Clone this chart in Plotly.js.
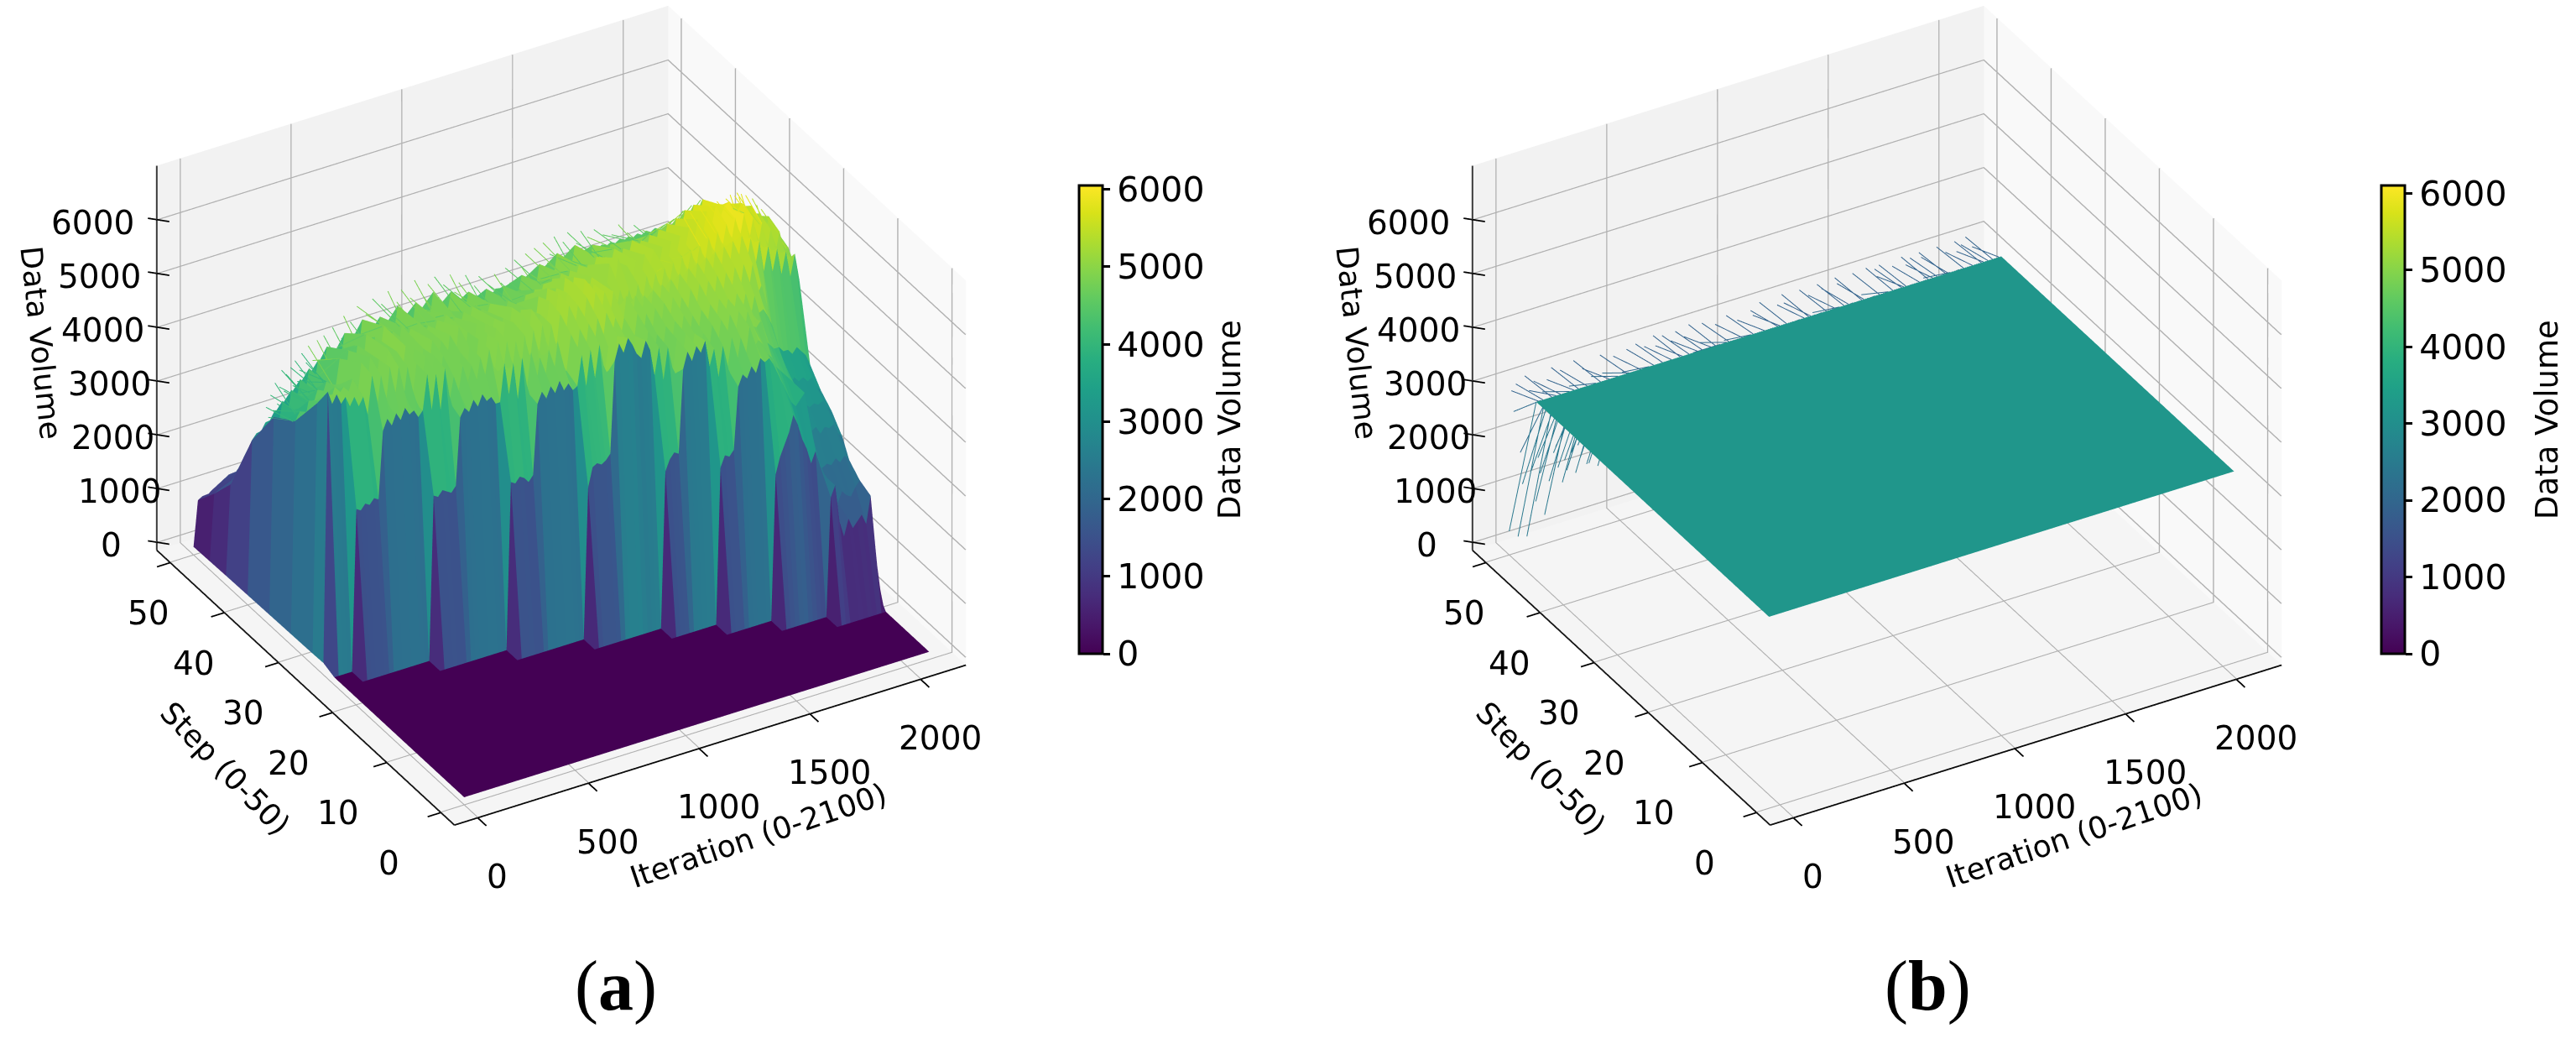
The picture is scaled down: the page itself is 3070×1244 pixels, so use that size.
<!DOCTYPE html>
<html><head><meta charset="utf-8">
<script src="https://cdn.plot.ly/plotly-3.0.1.min.js"></script>
<style>html,body{margin:0;padding:0;background:#fff;overflow:hidden}#g{width:3070px;height:1244px}</style>
</head><body><div id="g"></div>
<script>
// ---- data: Data Volume; each row holds the values past the flat zero floor, right aligned ----
const iterations = []; for (let i = 0; i <= 105; i++) iterations.push(i * 20);
const stepsA = [0,8,10,12,14,16,18,20,22,24,26,28,32,36,40,44,47,50];
const row10 = [2200,2400,1700,1400,1700,1500,1600,1700,1500,2000,0];
const row12 = [2700,3000,3200,3400,3700,3500,3200,3000,2700,2900,
 2600,2400,1900,1900,1800,2000,1900,1850,2000,2100,1500];
const row14 = [2900,3100,3050,3150,4300,4500,4400,4600,4450,4700,
 4600,4650,4500,4300,4100,3900,3700,3600,3700,3800,
 3000,2800,2400,2300,2350,2300,2400,2300,2400,2300,2000];
const row16 = [2900,3100,3200,3150,4700,5000,4800,5050,4900,5100,
 4600,4900,4350,4900,4450,5000,4400,4950,4500,5100,
 4700,4800,4700,4500,4400,4200,4100,4000,3900,3800,
 3300,3100,2900,2800,2850,2700,2800,2750,2800,2600,2500];
const row18 = [2800,3150,3200,3150,3200,3300,5000,5300,5100,5350,5200,5000,4900,5200,5000,
 4500,5000,4350,4950,4400,5050,4450,5100,4500,5050,
 4500,5000,4400,5100,4500,5150,4600,5200,4650,5200,
 4600,5150,4850,4800,4900,4500,4400,4300,4300,4000,
 3600,3300,3200,3000,3100,3000,3050,3000,3050,2900,2800];
const row20 = [3100,3050,3150,3100,3000,3100,4400,4600,4450,4650,4500,4700,4500,4600,4450,
 4500,5050,4450,5100,4550,5150,4500,5050,4400,5200,4550,5100,4400,5100,4450,
 4450,5100,4400,5000,4450,5100,4500,5150,4550,5200,
 4500,5150,4550,5200,4650,5250,4700,5300,4750,5250,
 4750,5300,4800,5250,4700,5150,4800,4850,4700,4500,
 4000,3600,3400,3300,3400,3300,3350,3250,3300,3100,3000];
const row22 = [3050,3000,3100,3050,3000,3100,4350,4500,4400,4600,4450,4650,4500,4550,4400,
 4400,5100,4500,5050,4350,5100,4450,5150,4400,5000,4450,5100,4500,5200,4600,
 4600,5250,4600,5300,4650,5350,4650,5400,4800,5450,4850,5300,4800,5250,4650,
 4600,5250,4550,5200,4600,5250,4600,5300,4700,5350,
 4700,5300,4700,5400,4800,5450,4850,5450,4850,5500,
 4950,5500,4950,5550,4950,5550,4950,5500,4900,5050,
 4500,4200,3900,3800,3700,3700,3600,3700,3600,3500,3300];
const row24 = [3000,2950,3050,3000,3100,3050,4300,4500,4350,4550,4400,4600,4450,4500,4350,
 4450,5100,4400,5050,4350,5100,4450,4900,4550,5050,4650,5000,4600,5100,4700,
 5200,4600,5300,4600,5250,4550,5200,4500,5250,4600,5300,4650,5350,4650,5300,
 4750,5450,4800,5550,4850,5500,4850,5600,4950,5650,5000,5600,4900,5550,4850,
 4750,5400,4700,5350,4650,5300,4650,5350,4750,5400,
 4750,5450,4850,5500,4900,5550,4950,5600,5000,5650,
 5050,5700,5100,5750,5150,5800,5200,5850,5250,5750,
 5150,5650,5050,5500,5000,5400,4900,5300,4800,5200,4700];
const row26 = [80,5100,4850,5000,4800,4900,4700,4850,4650,4800,
 4450,5150,4400,5100,4450,5200,4500,5150,4450,5100,
 4400,5100,4450,5200,4500,5150,4400,5100,4450,5050,
 4350,5050,4400,5100,4450,5200,4550,5250,4600,5300,
 4650,5350,4700,5300,4650,5400,4750,5450,4800,5300,
 4850,5500,4850,5600,4950,5550,4900,5650,5000,5700,
 5050,5550,5100,5500,4850,5350,4900,5300,4850,5250,
 4800,5300,4900,5400,5000,5400,4950,5450,5050,5500,
 5050,5550,5150,5600,5200,5650,5250,5750,5350,5800,
 5450,5900,5500,5950,5550,6000,5400,5850,5250,5700,
 5100,5550,5050,5450,4850,5100];
const row28 = [70,4700,4500,4800,4650,4900,4750,4850,4700,4950,
 4500,5200,4450,5250,4500,5150,4550,5300,4500,5200,
 4550,5250,4450,5150,4400,5100,4500,5200,4450,5150,
 4500,5200,4550,5300,4450,5150,4500,5250,4550,5200,
 4600,5250,4550,5200,4600,5350,4600,5250,4550,5200,
 4700,5400,4750,5500,4800,5450,4850,5600,4900,5550,
 4950,5400,5000,5450,4800,5500,4850,5600,4950,5650,
 5000,5450,5050,5500,5100,5550,5200,5600,5150,5600,
 5200,5650,5300,5700,5350,5800,5450,5900,5550,6000,
 5650,6050,5800,6000,6050,5850,5850,5950,5500,5850,
 5250,5650,5150,5550,4950,5200];
const row32 = [60,4000,4150,3900,4300,4200,4450,4300,4550,4400,
 4350,4900,4250,5000,4350,5050,4400,5200,4450,5100,
 4700,5250,4600,5100,4650,5150,4800,5050,4650,5100,
 4800,5000,4700,5050,4850,5100,4700,5000,4750,5050,
 4750,5100,4700,5000,4800,5050,4650,4950,4700,5000,
 4550,4900,4650,5000,4700,5050,4800,5100,4700,5150,
 4900,5200,4800,5200,4950,5250,4850,5200,5000,5300,
 4900,5250,5000,5350,4900,5300,5050,5400,4950,5350,
 5050,5400,5000,5450,5100,5500,5200,5550,5250,5650,
 5400,5700,5350,5750,5300,5650,5200,5550,5100,5450,
 5000,5300,4900,5200,4750,4700];
const row36 = [50,3700,3500,3950,3600,4100,3800,4250,3900,4400,
 4000,4500,4150,4700,4200,4550,4300,4850,4350,4600,
 4350,5000,4400,4650,4300,4950,4450,4700,4500,5050,
 4450,4750,4400,5000,4550,4800,4450,5100,4500,4700,
 4550,5000,4450,4750,4500,4900,4400,4700,4350,4850,
 4300,4600,4400,4800,4350,4650,4500,4900,4450,4700,
 4500,5000,4550,4750,4600,5100,4550,4800,4650,5150,
 4600,4850,4550,5050,4650,4800,4500,4950,4550,4750,
 4500,4900,4450,4700,4400,4800,4350,4650,4300,4700,
 4300,4500,4250,4600,4200,4400,4100,4350,4000,4200,
 3900,4100,3800,3950,3700,3500];
const row40 = [40,2900,3000,2950,3150,3100,3300,3250,3400,3350,
 3500,3450,3600,3550,3700,3650,3750,3700,3850,3800,
 3900,3850,3950,3900,4000,3950,4050,4000,4100,4050,
 4100,4050,4150,4100,4200,4150,4200,4150,4200,4150,
 4200,4150,4250,4200,4250,4150,4200,4150,4200,4150,
 4200,4150,4250,4200,4250,4200,4300,4250,4300,4250,
 4300,4250,4350,4300,4350,4300,4400,4350,4400,4350,
 4400,4350,4450,4400,4450,4400,4500,4450,4500,4450,
 4500,4450,4500,4450,4500,4450,4500,4450,4500,4450,
 4500,4450,4500,4450,4400,4350,4300,4250,4200,4150,
 4100,4050,4000,3900,3800,3600];
const row44 = [30,1700,1800,1750,1950,1900,2100,2050,2200,2150,
 2300,2250,2400,2350,2500,2450,2550,2500,2650,2600,
 2700,2650,2750,2700,2800,2750,2850,2800,2900,2850,
 2900,2850,2950,2900,3000,2950,3000,2950,3000,2950,
 3000,2950,3050,3000,3050,2950,3000,2950,3000,2950,
 3000,2950,3050,3000,3050,3000,3100,3050,3100,3050,
 3100,3050,3150,3100,3150,3100,3200,3150,3200,3150,
 3200,3150,3250,3200,3250,3200,3300,3250,3300,3250,
 3300,3250,3300,3250,3300,3250,3300,3250,3300,3250,
 3300,3250,3300,3250,3200,3150,3100,3050,3000,2950,
 2900,2850,2800,2700,2600,2400];
const row47 = [20,1250,1300,1280,1350,1400,1450,1500,1550,1500,
 1600,1550,1650,1600,1700,1650,1750,1700,1800,1750,
 1800,1750,1850,1800,1900,1850,1900,1850,1950,1900,
 1950,1900,2000,1950,2000,1950,2050,2000,2050,2000,
 2050,2000,2050,2000,2100,2050,2100,2050,2100,2050,
 2100,2050,2150,2100,2150,2100,2150,2100,2150,2100,
 2150,2100,2200,2150,2200,2150,2200,2150,2200,2150,
 2200,2150,2250,2200,2250,2200,2250,2200,2250,2200,
 2250,2200,2250,2200,2250,2200,2250,2200,2250,2200,
 2250,2200,2200,2150,2150,2100,2100,2050,2050,2000,
 2000,1950,1900,1850,1800,1700];
const row50 = [10,850,900,880,950,1000,1050,1100,1150,1100,
 1200,1150,1250,1200,1300,1250,1350,1300,1400,1350,
 1400,1350,1450,1400,1500,1450,1500,1450,1550,1500,
 1550,1500,1600,1550,1600,1550,1650,1600,1650,1600,
 1650,1600,1650,1600,1700,1650,1700,1650,1700,1650,
 1700,1650,1750,1700,1750,1700,1750,1700,1750,1700,
 1750,1700,1800,1750,1800,1750,1800,1750,1800,1750,
 1800,1750,1850,1800,1850,1800,1850,1800,1850,1800,
 1850,1800,1850,1800,1850,1800,1850,1800,1850,1800,
 1850,1800,1800,1750,1750,1700,1700,1650,1650,1600,
 1600,1550,1500,1450,1400,1300];
const rowsA = [[],[],row10,row12,row14,row16,row18,row20,row22,row24,row26,row28,row32,row36,row40,row44,row47,row50];

// fine-grained spikes of the hill in panel (a): along step 37 every 10 iterations
const iterationsFine = []; for (let i = 0; i <= 210; i++) iterationsFine.push(i * 10);
const crestA = [60,3800,3600,4000,3700,4200,3800,4100,4400,4000,4300,
 3900,4400,4050,4500,4100,4300,4600,4100,4400,4700,
 4000,4400,4100,4750,4200,4300,4800,4150,4450,4250,
 4900,4250,4500,4300,4650,5050,4300,4500,4900,4350,
 4600,5150,4350,4700,4400,4950,4450,4600,5200,4400,
 4750,4450,5050,4500,4650,5250,4450,4800,4550,5000,
 4500,5200,4600,4700,4500,5000,4550,5300,4500,4750,
 4600,4950,4500,5150,4650,4700,5250,4500,4800,4600,
 5050,4550,4700,5200,4450,4850,4550,5000,4500,4700,
 5100,4400,4650,4500,4850,4350,5000,4450,4600,4400,
 4800,4300,4550,4950,4350,4500,4750,4300,5000,4400,
 4700,4450,5100,4500,4650,4950,4450,5150,4550,4750,
 4600,5200,4500,4800,4650,5250,4600,4850,5000,4650,
 5300,4600,4900,4700,5150,4650,5300,4700,4850,4650,
 5050,4600,5250,4650,4800,5100,4600,4900,5200,4550,
 4750,4600,5050,4500,4800,4600,5000,4500,4700,5150,
 4450,4750,4500,4950,4400,4700,5050,4450,4600,4350,
 4900,4400,4600,4800,4300,4550,4350,4750,4250,4500,
 4650,4200,4450,4300,4600,4150,4400,4200,4500,4050,
 4300,4100,4450,3950,4200,4000,4300,3900,4100,3800,
 4150,3700,4000,3600,3900,3500,3800,3400,3700,3500];
// along step 29 for iterations 1500-2100, every 10
const crestRightA = [5200,4900,5450,5000,5150,5500,4950,5300,5050,5450,
 5000,5250,5550,5050,5350,5100,5600,5150,5400,5100,
 5900,5400,5650,5950,5450,5700,5500,6000,5500,5750,
 5550,6000,5600,5850,5650,6000,5700,5900,5750,6000,
 5850,6050,5900,6000,6050,5950,6000,5800,5950,5700,
 5600,5850,5450,5700,5300,5600,5200,5450,5050,5300,4900];

// ---- panel (b): a flat plateau, with a jagged back row ----
const iterationsPlane = [0, 2100];
const stepsPlane = [2, 45];
const plateauB = 3170;
const backStepB = 50;
const backRowB = [300,2900,2500,3000,150,1700,1100,3100,100,2800,1300,2950,700,1500,1200,2700,400,2900,1000,3100,
 1500,1600,1200,3000,900,1300,1100,2650,1400,3100,1000,1500,1250,2900,1500,1100,1100,2700,1350,1450,
 1000,3050,2700,1850,1200,1500,1500,2950,1150,1300,1450,2600,1300,3000,1100,1750,1550,3050,1350,1500,
 1600,2950,1200,1600,1500,3100,2900,1700,1300,3050,1500,1700,1800,2900,1600,3050,1900,1450,1600,2900,
 1700,3100,1900,2550,1400,2300,2700,3050,2300,2080,2000,2100,1900,2950,2200,2100,1800,2600,3050,2300,
 2000,2250,2100,2900,1700,2100,2300,2300,1900,3000,2900,2250,2400,3100,2000,2100,2300,2050,1900,2500,
 2200,2950,2300,3120,2950,2200,2400,2300,2100,2500,2300,3100,2000,2150,2400,2950,2200,2600,1900,3100,
 2300,3000,2400,2450,2100,2100,2300,3120,3000,2200,2400,2300,2200,2500,2300,3100,2100,2300,2400,2650,
 2000,3120,2300,2250,2400,3050,2900,3100,2100,2300,2400,2200,2300,3000,2000,2300,2400,3120,2200,2950,
 2300,3050,2100,2250,2400,3100,3000,2600,2300,2200,2100,2500,2400,3100,2200,2300,2300,2950,2100,2300,
 2300,3100,2900,2200,3000,2300,3120,2200,2100,2900,2300];

// ---- axes ----
const iterTicks = [0,500,1000,1500,2000];
const stepTicks = [0,10,20,30,40,50];
const volTicks = [0,1000,2000,3000,4000,5000,6000];
const stepLabelDx = [-62,-58,-52,-42,-36,-26];
const volLabelDx = [-54,-44,-52,-56,-64,-68,-76];
const xLim = [-105,2205], yLim = [-2.5,52.5], zLim = [-150,7000];
const cmaxA = 6050, cmaxB = 6100;

const xRange=[-405,2505], yRange=[-10,60], zRange=[-575,7425];
const boxScale=1.425;
const aspect={x:boxScale*(xRange[1]-xRange[0])/2310, y:boxScale*(yRange[1]-yRange[0])/55, z:boxScale*0.77*(zRange[1]-zRange[0])/(zLim[1]-zLim[0])};
const FLAT={ambient:1,diffuse:0,specular:0,roughness:1,fresnel:0};
const W=3070,H=1244;

function facetSurface(xs, ys, zm, scene, bar){
  const nx=xs.length, ny=ys.length, X=[],Y=[],Z=[],C=[];
  for(let r=0;r<ny-1;r++)for(let s=0;s<2;s++){
    const xr=[],yr=[],zr=[],cr=[];
    for(let c=0;c<nx-1;c++){
      const m=(zm[r][c]+zm[r][c+1]+zm[r+1][c]+zm[r+1][c+1])/4;
      for(let t=0;t<2;t++){xr.push(xs[c+t]);yr.push(ys[r+s]);zr.push(zm[r+s][c+t]);cr.push(m);}
    }
    X.push(xr);Y.push(yr);Z.push(zr);C.push(cr);
  }
  return {type:'surface',scene,x:X,y:Y,z:Z,surfacecolor:C,colorscale:'Viridis',cmin:0,cmax:bar.cmax,hoverinfo:'skip',
    lighting:FLAT,lightposition:{x:0,y:0,z:10000},showscale:true,
    colorbar:{x:bar.x/W,xanchor:'left',thickness:28,thicknessmode:'pixels',
      y:0.598,yanchor:'middle',len:558/H,lenmode:'fraction',ypad:0,xpad:0,
      outlinecolor:'#000',outlinewidth:3,ticks:'outside',ticklen:8,tickwidth:3,tickcolor:'#000',
      tickvals:volTicks,ticktext:volTicks.map(String),
      tickfont:{family:'DejaVu Sans',size:41,color:'#000'}}};
}
function line3d(scene,x,y,z,color,width){
  return {type:'scatter3d',scene,mode:'lines',x,y,z,connectgaps:false,hoverinfo:'skip',showlegend:false,line:{color,width}};
}
// thin needles for the fine spikes: each goes from a base point to a tip, grouped by colour
function needles(scene,segs,width){
  const groups={};
  for(const s of segs){
    const g=groups[s.color]||(groups[s.color]={x:[],y:[],z:[]});
    g.x.push(s.x,s.x,null); g.y.push(s.y0,s.y1,null); g.z.push(s.z0,s.z1,null);
  }
  return Object.keys(groups).map(c=>line3d(scene,groups[c].x,groups[c].y,groups[c].z,c,width));
}
function pane(scene,x,y,z,color){
  return {type:'surface',scene,x,y,z,surfacecolor:[[0,0],[0,0]],colorscale:[[0,color],[1,color]],cmin:0,cmax:1,
    showscale:false,hoverinfo:'skip',lighting:FLAT};
}
function frame(scene){
  const [x0,x1]=xLim,[y0,y1]=yLim,[z0,z1]=zLim;
  const g={x:[],y:[],z:[]}, a={x:[],y:[],z:[]};
  const seg=(o,p,q)=>{o.x.push(p[0],q[0],null);o.y.push(p[1],q[1],null);o.z.push(p[2],q[2],null);};
  const eps=1;
  for(const t of iterTicks){ seg(g,[t,y0,z0+eps],[t,y1,z0+eps]); seg(g,[t,y1-0.01,z0],[t,y1-0.01,z1]); seg(a,[t,y0-1.6,z0],[t,y0+0.4,z0]); }
  for(const t of stepTicks){ seg(g,[x0,t,z0+eps],[x1,t,z0+eps]); seg(g,[x1-eps,t,z0],[x1-eps,t,z1]); seg(a,[x0-60,t,z0],[x0+15,t,z0]); }
  for(const t of volTicks){ seg(g,[x0,y1-0.01,t],[x1,y1-0.01,t]); seg(g,[x1-eps,y0,t],[x1-eps,y1,t]); seg(a,[x0-25,y1+0.6,t],[x0+35,y1-0.9,t]); }
  seg(a,[x0,y0,z0],[x1,y0,z0]); seg(a,[x0,y0,z0],[x0,y1,z0]); seg(a,[x0,y1,z0],[x0,y1,z1]);
  return [
    pane(scene,[[x0,x1],[x0,x1]],[[y1,y1],[y1,y1]],[[z0,z0],[z1,z1]],'#f2f2f2'),
    pane(scene,[[x1,x1],[x1,x1]],[[y0,y1],[y0,y1]],[[z0,z0],[z1,z1]],'#f9f9f9'),
    pane(scene,[[x0,x1],[x0,x1]],[[y0,y0],[y1,y1]],[[z0,z0],[z0,z0]],'#f5f5f5'),
    line3d(scene,g.x,g.y,g.z,'#b0b0b0',4),
    line3d(scene,a.x,a.y,a.z,'#000000',3.5)
  ];
}
function labels(){
  const f={family:'DejaVu Sans',size:39,color:'#000'}, t2={family:'DejaVu Sans',size:36,color:'#000'}, out=[];
  const add=(x,y,z,text,xs,ys)=>out.push({x,y,z,text,showarrow:false,font:f,xshift:xs,yshift:ys,xanchor:'center',yanchor:'middle'});
  iterTicks.forEach(t=>add(t,yLim[0],zLim[0],String(t),23,-70));
  stepTicks.forEach((t,n)=>add(xLim[0],t,zLim[0],String(t),stepLabelDx[n],-60));
  volTicks.forEach((t,n)=>add(xLim[0],yLim[1],t,String(t),volLabelDx[n],-4));
  out.push({x:1050,y:yLim[0],z:zLim[0],text:'Iteration (0-2100)',showarrow:false,font:t2,xshift:58,yshift:-108,textangle:-18.6,xanchor:'center',yanchor:'middle'});
  out.push({x:xLim[0],y:25,z:zLim[0],text:'Step (0-50)',showarrow:false,font:t2,xshift:-96,yshift:-96,textangle:46,xanchor:'center',yanchor:'middle'});
  out.push({x:xLim[0],y:yLim[1],z:3425,text:'Data Volume',showarrow:false,font:t2,xshift:-138,yshift:18,textangle:84,xanchor:'center',yanchor:'middle'});
  return out;
}
const zA = stepsA.map((y,r)=>{ const v=rowsA[r], row=new Array(iterations.length).fill(0);
  for(let n=0;n<v.length;n++) row[iterations.length-v.length+n]=v[n]; return row; });
const zPlane = [[plateauB,plateauB],[plateauB,plateauB]];
const nearest=(row,x)=>row[Math.min(105,Math.round(x/20))];

function crestColor(x,n){
  if(x<200) return '#35b779';
  if(x<1700) return n%2? '#7ad151':'#5ec962';
  return n%2? '#a0da39':'#7ad151';
}
const crestSegs = iterationsFine.slice(1).map((x,n)=>({x,y0:32,z0:nearest(row32,x),y1:37,z1:crestA[n+1],color:crestColor(x,n)}));
const rightSegs = crestRightA.map((z,n)=>{const x=1500+n*10;
  return {x,y0:26,z0:nearest(row26,x),y1:29,z1:z,color:z>=5900?'#e2e418':(n%2?'#b5de2b':'#a0da39')};});
const backSegs = backRowB.map((z,n)=>{const x=n*10;
  return {x,y0:stepsPlane[1],z0:plateauB,y1:backStepB,z1:z,color:z>=2800?'#33638d':(z>=1600?'#2f6c8e':'#2a788e')};});

const traces=[];
traces.push(...frame('scene'));
traces.push(facetSurface(iterations,stepsA,zA,'scene',{x:1286,cmax:cmaxA}));
traces.push(...needles('scene',crestSegs,2));
traces.push(...needles('scene',rightSegs,2));
traces.push(...frame('scene2'));
traces.push(facetSurface(iterationsPlane,stepsPlane,zPlane,'scene2',{x:2838,cmax:cmaxB}));
traces.push(...needles('scene2',backSegs,2));

const d=0.98, az=-120.2*Math.PI/180, el=32.5*Math.PI/180;
const eye={x:d*Math.cos(el)*Math.cos(az),y:d*Math.cos(el)*Math.sin(az),z:d*Math.sin(el)};
function scene(dom){
  const ax=r=>({range:r,autorange:false,showgrid:false,zeroline:false,showline:false,ticks:'',showticklabels:false,showbackground:false,showspikes:false,title:{text:''}});
  return {domain:dom,xaxis:ax(xRange),yaxis:ax(yRange),zaxis:ax(zRange),aspectmode:'manual',aspectratio:aspect,
    camera:{eye,center:{x:0,y:0,z:0},up:{x:0,y:0,z:1},projection:{type:'orthographic'}},annotations:labels()};
}
const note=(x,y,text,font,textangle)=>({xref:'paper',yref:'paper',x:x/W,y:1-y/H,text,font,textangle:textangle||0,showarrow:false,xanchor:'center',yanchor:'middle'});
const barFont={family:'DejaVu Sans',size:37,color:'#000'}, capFont={family:'Liberation Serif',size:84,color:'#000'};
const layout={width:W,height:H,margin:{l:0,r:0,t:0,b:0,pad:0,autoexpand:false},paper_bgcolor:'#fff',showlegend:false,
  scene:scene({x:[9/W,1329/W],y:[(H-990)/H,1]}),
  scene2:scene({x:[1577/W,2897/W],y:[(H-990)/H,1]}),
  annotations:[
   note(1465,500,'Data Volume',barFont,-90),
   note(3035,500,'Data Volume',barFont,-90),
   note(734,1175,'(<b>a</b>)',capFont),
   note(2297,1175,'(<b>b</b>)',capFont)
  ]};
Plotly.newPlot('g',traces,layout,{displayModeBar:false});
</script></body></html>
